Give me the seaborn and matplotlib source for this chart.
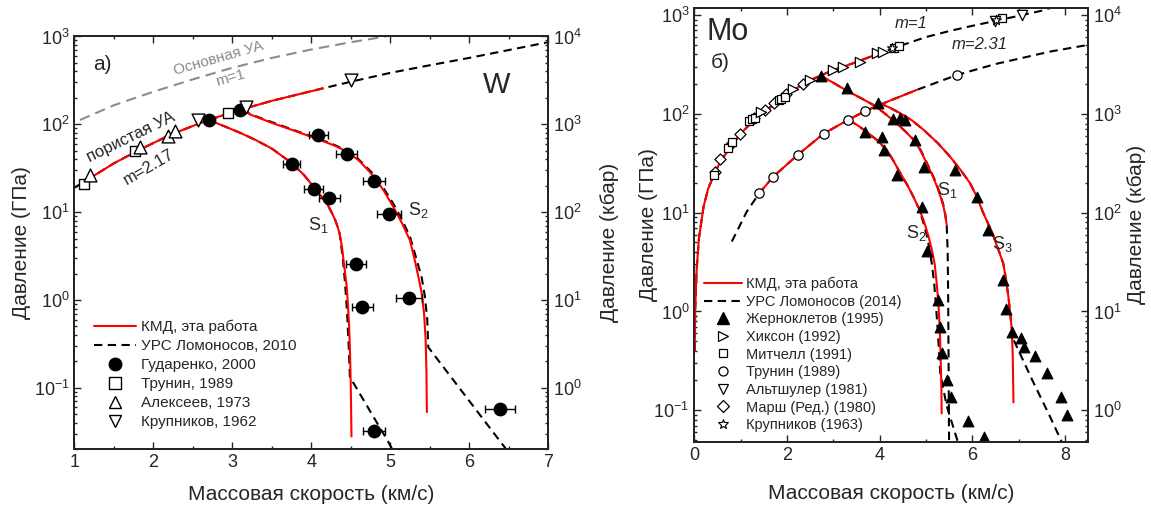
import numpy as np
import matplotlib
matplotlib.use('Agg')
import matplotlib.pyplot as plt
import seaborn as sns
from matplotlib.lines import Line2D
from matplotlib.ticker import LogLocator, MultipleLocator, NullFormatter

# ---------------- data: W (left panel) ----------------
w_solid_u = [1.07, 1.5, 2.0, 2.5, 3.0, 3.5, 4.0, 4.5, 4.95]
w_solid_p = [112, 165, 235, 325, 440, 570, 710, 860, 1000]

w_por_u = [1.0, 1.15, 1.5, 1.8, 2.2, 2.6, 3.0, 3.5, 4.15, 4.5, 5.0, 5.5, 6.0, 6.5, 7.0]
w_por_p = [19, 23, 36, 50, 75, 104, 138, 185, 257, 305, 385, 470, 570, 700, 860]
w_por_kmd_u = [1.15, 1.5, 1.8, 2.2, 2.6, 3.0, 3.5, 4.15]
w_por_kmd_p = [23, 36, 50, 75, 104, 138, 185, 257]

w_s1_kmd_u = [2.70, 2.9, 3.1, 3.3, 3.5, 3.73, 3.9, 4.05, 4.2, 4.25, 4.3, 4.33, 4.36, 4.39, 4.41,
              4.43, 4.45, 4.465, 4.48, 4.49, 4.50, 4.505, 4.51]
w_s1_kmd_p = [112, 95, 80, 66, 53, 37.5, 27, 18.5, 12.5, 10.3, 8.3, 7.0, 5.7, 4.0, 2.8,
              2.0, 1.4, 0.9, 0.5, 0.28, 0.12, 0.06, 0.028]
w_s1_eos_u = [2.70, 2.9, 3.1, 3.3, 3.5, 3.73, 3.9, 4.05, 4.2, 4.25, 4.3, 4.33, 4.36, 4.40, 4.43,
              4.455, 4.475, 4.49, 4.976, 5.04]
w_s1_eos_p = [112, 95, 80, 66, 53, 37.5, 27, 18.5, 12.5, 10.3, 8.3, 7.0, 5.7, 3.0, 1.5,
              0.7, 0.3, 0.133, 0.0243, 0.019]

w_s2_kmd_u = [3.15, 3.22, 3.5, 3.86, 4.1, 4.3, 4.45, 4.6, 4.7, 4.8, 4.92, 5.04, 5.15, 5.25,
              5.31, 5.36, 5.40, 5.43, 5.45, 5.46, 5.465]
w_s2_kmd_p = [152, 130, 104, 80, 67, 57, 49, 39, 31.5, 25, 17.5, 11.5, 7.5, 4.8,
              2.9, 1.8, 1.2, 0.7, 0.35, 0.15, 0.053]
w_s2_eos_u = [3.15, 3.22, 3.5, 3.86, 4.1, 4.3, 4.45, 4.6, 4.7, 4.8, 4.92, 5.04, 5.15, 5.25,
              5.33, 5.40, 5.44, 5.47, 5.483, 6.35, 6.50]
w_s2_eos_p = [152, 131, 106, 81, 68, 58, 50, 40, 32.5, 26.5, 18.5, 12.5, 8.2, 5.3,
              3.0, 1.8, 1.1, 0.6, 0.29, 0.0277, 0.0185]

w_gud_u = [2.70, 3.10, 4.09, 4.45, 4.80, 4.985, 3.75, 4.03, 4.23, 4.567, 4.647, 5.24, 6.39, 4.795]
w_gud_p = [112, 146, 75.6, 45.9, 22.8, 9.5, 35.3, 18.3, 14.4, 2.57, 0.824, 1.06, 0.057, 0.0324]
w_gud_err = [0, 0, 0.12, 0.13, 0.14, 0.15, 0.11, 0.12, 0.13, 0.13, 0.13, 0.16, 0.19, 0.14]

w_trunin_u = [1.12, 1.767, 2.95]
w_trunin_p = [20.9, 50, 133]
w_alek_u = [1.197, 1.83, 2.19, 2.27]
w_alek_p = [26.5, 55.6, 73.6, 84.6]
w_krup_u = [2.57, 3.17, 4.51]
w_krup_p = [112, 156, 316]

legend_w = ["КМД, эта работа", "УРС Ломоносов, 2010", "Гударенко, 2000",
            "Трунин, 1989", "Алексеев, 1973", "Крупников, 1962"]

# ---------------- data: Mo (right panel) ----------------
mo_m1_kmd_u = [0.008, 0.02, 0.05, 0.1, 0.2, 0.3, 0.45, 0.6, 0.8, 1.0, 1.3, 1.6, 2.0, 2.5, 3.0, 3.5, 4.1]
mo_m1_kmd_p = [0.4, 1.05, 2.6, 5.5, 11.5, 17.5, 26, 35, 47, 63, 88, 113, 160, 220, 278, 335, 430]
mo_m1_eos_u = [0.008, 0.02, 0.05, 0.1, 0.2, 0.3, 0.45, 0.6, 0.8, 1.0, 1.3, 1.6, 2.0, 2.5, 3.0, 3.5,
               4.1, 4.5, 5.0, 5.5, 6.0, 6.5, 7.0, 7.5, 7.7]
mo_m1_eos_p = [0.4, 1.05, 2.6, 5.5, 11.5, 17.5, 26, 35, 47, 63, 88, 113, 160, 220, 278, 335,
               430, 500, 600, 690, 780, 875, 985, 1110, 1190]

mo_por_eos_u = [0.81, 1.13, 1.40, 1.706, 2.23, 2.79, 3.32, 3.69, 3.97, 4.8, 5.67, 6.5, 7.68, 8.5]
mo_por_eos_p = [5.1, 10.2, 15.7, 23.2, 38.4, 63, 87, 107, 122, 175, 248, 320, 428, 500]
mo_por_kmd_u = [1.35, 1.706, 2.23, 2.79, 3.32, 3.69, 3.97, 4.8]
mo_por_kmd_p = [14.7, 23.2, 38.4, 63, 87, 107, 122, 175]

mo_s1_kmd_u = [2.73, 3.0, 3.29, 3.58, 3.87, 4.08, 4.30, 4.55, 4.77, 4.90, 5.02, 5.13, 5.24,
               5.32, 5.38, 5.42, 5.45]
mo_s1_kmd_p = [243, 207, 172, 146, 123, 104, 85.5, 67, 52.4, 41, 31.6, 24.5, 18.4,
               14.3, 11.5, 9.3, 7.5]
mo_s1_eos_u = [2.73, 3.0, 3.29, 3.58, 3.87, 4.08, 4.30, 4.55, 4.77, 4.90, 5.02, 5.13, 5.24,
               5.32, 5.38, 5.42, 5.45, 5.47, 5.48, 5.49, 5.50]
mo_s1_eos_p = [243, 207, 172, 146, 123, 104, 85.5, 67, 53, 42, 32, 25, 19,
               14.8, 11.8, 9.5, 7.3, 4.0, 1.5, 0.3, 0.047]

mo_s2_kmd_u = [3.33, 3.52, 3.72, 3.95, 4.16, 4.30, 4.44, 4.6, 4.73, 4.85, 4.95, 5.05, 5.13,
               5.19, 5.23, 5.27, 5.30, 5.32, 5.335, 5.34]
mo_s2_kmd_p = [87, 77, 66, 54, 43, 33.5, 25.5, 19, 14.5, 11, 8.4, 5.9, 4.2,
               3.0, 2.0, 1.2, 0.65, 0.32, 0.16, 0.093]
mo_s2_eos_u = [3.33, 3.52, 3.72, 3.95, 4.16, 4.30, 4.44, 4.6, 4.73, 4.85, 4.93, 5.02, 5.08,
               5.13, 5.18, 5.22, 5.26, 5.29, 5.31, 5.45, 5.70]
mo_s2_eos_p = [87, 77, 66, 54, 43, 33.5, 25.5, 19, 14.5, 11, 8.4, 5.9, 4.2,
               3.0, 1.9, 1.1, 0.6, 0.35, 0.237, 0.11, 0.046]

mo_s3_kmd_u = [3.97, 4.2, 4.44, 4.7, 4.95, 5.25, 5.52, 5.75, 5.95, 6.1, 6.24, 6.34, 6.42, 6.52,
               6.60, 6.67, 6.73, 6.78, 6.82, 6.855, 6.875, 6.89]
mo_s3_kmd_p = [130, 117, 102, 86, 69, 51, 37, 27, 20, 14.5, 9.9, 7.8, 6.5, 4.8,
               3.8, 3.06, 2.1, 1.42, 0.95, 0.65, 0.35, 0.12]
mo_s3_eos_u = [3.97, 4.2, 4.44, 4.7, 4.95, 5.25, 5.52, 5.75, 5.95, 6.1, 6.24, 6.34, 6.42, 6.52,
               6.60, 6.67, 6.73, 6.78, 6.82, 6.86, 6.89, 7.3, 7.68, 7.93]
mo_s3_eos_p = [130, 117, 102, 86, 69, 51, 37, 27, 20, 14.5, 9.9, 7.8, 6.5, 4.8,
               3.8, 3.06, 2.1, 1.42, 0.95, 0.65, 0.52, 0.2, 0.086, 0.048]

mo_zhern_u = [2.73, 3.29, 3.97, 4.30, 4.43, 4.55, 4.77, 4.95, 5.63, 6.10, 6.34, 3.69, 4.05, 4.10,
              4.37, 4.91, 5.02, 5.26, 5.31, 5.34, 5.45, 5.54, 5.90, 6.26, 6.66, 6.73, 6.855,
              7.05, 7.11, 7.36, 7.61, 7.92, 8.04]
mo_zhern_p = [243, 182, 130, 89, 92, 86, 54.6, 29.2, 27.1, 14.5, 6.7, 66.2, 58.9, 43.2,
              24.1, 11.5, 4.12, 1.30, 0.69, 0.38, 0.20, 0.137, 0.077, 0.054, 2.06, 1.07, 0.62,
              0.54, 0.44, 0.35, 0.24, 0.137, 0.089]
mo_hix_u = [1.45, 2.14, 2.49, 3.00, 3.22, 3.58, 3.94, 4.07]
mo_hix_p = [104, 180, 221, 279, 302, 339, 412, 428]
mo_mitch_u = [0.42, 0.72, 0.82, 1.18, 1.24, 1.30, 1.82, 1.88, 1.95, 4.32, 4.42, 6.64]
mo_mitch_p = [24, 45, 52, 85, 88, 92, 138, 143, 150, 470, 490, 946]
mo_trunin_u = [1.40, 1.706, 2.23, 2.79, 3.32, 3.69, 5.67]
mo_trunin_p = [15.7, 23.2, 38.4, 63.2, 87, 107, 248]
mo_alt_u = [6.50, 7.07]
mo_alt_p = [880, 1006]
mo_marsh_u = [0.45, 0.56, 0.78, 0.99, 1.28, 1.53, 1.72, 1.98, 2.35]
mo_marsh_p = [26, 35, 48, 63, 90, 110, 128, 160, 200]
mo_krup_u = [4.27, 6.52]
mo_krup_p = [468, 890]

legend_mo = ["КМД, эта работа", "УРС Ломоносов (2014)", "Жерноклетов (1995)", "Хиксон (1992)",
             "Митчелл (1991)", "Трунин (1989)", "Альтшулер (1981)", "Марш (Ред.) (1980)",
             "Крупников (1963)"]

# ---------------- style ----------------
sns.set_theme(style='ticks')
plt.rcParams['font.family'] = ['Liberation Sans', 'DejaVu Sans']
plt.rcParams['mathtext.fontset'] = 'custom'
plt.rcParams['mathtext.rm'] = 'Liberation Sans'
plt.rcParams['mathtext.it'] = 'Liberation Sans:italic'
plt.rcParams['mathtext.default'] = 'regular'

RED = '#ff0000'
DASH = (0, (4, 2.6))
GRAYDASH = (0, (5, 3))

fig = plt.figure(figsize=(11.51, 5.08), dpi=100)
axL = fig.add_axes([0.0647, 0.1156, 0.4114, 0.8126])
axR = fig.add_axes([0.6032, 0.1305, 0.3421, 0.8543])


def line(ax, x, y, color, ls='-', lw=1.5, z=2):
    sns.lineplot(x=x, y=y, ax=ax, color=color, linestyle=ls, linewidth=lw,
                 sort=False, estimator=None, zorder=z, legend=False)


def pts(ax, x, y, marker, size, filled=False, lw=1.0, z=5):
    sns.scatterplot(x=x, y=y, ax=ax, marker=marker, s=size,
                    color='black' if filled else 'white', edgecolor='black',
                    linewidth=lw, zorder=z, legend=False)


def style_axes(ax, xlim, ylim, xmaj, xmin, lpad_left, lpad_right, xpad):
    ax.set_yscale('log')
    ax.set_xlim(*xlim)
    ax.set_ylim(*ylim)
    ax.xaxis.set_major_locator(MultipleLocator(xmaj))
    ax.xaxis.set_minor_locator(MultipleLocator(xmin))
    ax.yaxis.set_major_locator(LogLocator(base=10))
    ax.yaxis.set_minor_locator(LogLocator(base=10, subs=np.arange(2, 10)))
    ax.yaxis.set_minor_formatter(NullFormatter())
    ax.tick_params(which='both', direction='in', top=True, right=False, labelsize=13, width=1.0)
    ax.tick_params(which='major', length=5)
    ax.tick_params(which='minor', length=2.5)
    for s in ax.spines.values():
        s.set_linewidth(1.3)
        s.set_color('black')
    ax.set_xlabel('Массовая скорость (км/с)', fontsize=15, labelpad=xpad)
    ax.set_ylabel('Давление (ГПа)', fontsize=15, labelpad=lpad_left)
    tw = ax.twinx()
    tw.set_yscale('log')
    tw.set_ylim(ylim[0] * 10, ylim[1] * 10)
    tw.yaxis.set_major_locator(LogLocator(base=10))
    tw.yaxis.set_minor_locator(LogLocator(base=10, subs=np.arange(2, 10)))
    tw.yaxis.set_minor_formatter(NullFormatter())
    tw.tick_params(which='both', direction='in', right=True, labelsize=13, width=1.0)
    tw.tick_params(which='major', length=5)
    tw.tick_params(which='minor', length=2.5)
    tw.set_ylabel('Давление (кбар)', fontsize=15, labelpad=lpad_right)
    for s in tw.spines.values():
        s.set_linewidth(1.3)
    return tw


# ---------------- left panel: W ----------------
style_axes(axL, (1, 7), (0.02, 1000), 1, 0.5, 2, 13, 10)
line(axL, w_solid_u, w_solid_p, '#8c8c8c', GRAYDASH, 1.5, 1)
line(axL, w_por_u, w_por_p, 'black', DASH, 1.5, 2)
line(axL, w_s1_eos_u, w_s1_eos_p, 'black', DASH, 1.5, 2)
line(axL, w_s2_eos_u, w_s2_eos_p, 'black', DASH, 1.5, 2)
line(axL, w_por_kmd_u, w_por_kmd_p, RED, '-', 1.5, 3)
line(axL, w_s1_kmd_u, w_s1_kmd_p, RED, '-', 1.5, 3)
line(axL, w_s2_kmd_u, w_s2_kmd_p, RED, '-', 1.5, 3)

gu = np.array(w_gud_u); gp = np.array(w_gud_p); ge = np.array(w_gud_err)
m = ge > 0
axL.errorbar(gu[m], gp[m], xerr=ge[m], fmt='none', ecolor='black', elinewidth=1.0,
             capsize=3, capthick=1.0, zorder=4)
pts(axL, w_gud_u, w_gud_p, 'o', 80, filled=True)
pts(axL, w_trunin_u, w_trunin_p, 's', 60)
pts(axL, w_alek_u, w_alek_p, '^', 85)
pts(axL, w_krup_u, w_krup_p, 'v', 85)

axL.text(1.35, 480, 'а)', fontsize=15, ha='center', va='center')
axL.text(6.35, 280, 'W', fontsize=21, ha='center', va='center')
axL.text(2.82, 560, 'Основная УА', fontsize=11, color='#8c8c8c', rotation=16,
         ha='center', va='center')
axL.text(2.98, 335, 'm=1', fontsize=11, color='#8c8c8c', rotation=16, ha='center', va='center')
axL.text(1.72, 72, 'пористая УА', fontsize=12, rotation=26, ha='center', va='center')
axL.text(1.94, 33, 'm=2.17', fontsize=12, rotation=30, ha='center', va='center')
axL.text(4.09, 7.1, r'S$_{1}$', fontsize=13, ha='center', va='center')
axL.text(5.36, 10.6, r'S$_{2}$', fontsize=13, ha='center', va='center')

hL = [Line2D([], [], color=RED, lw=1.5),
      Line2D([], [], color='black', lw=1.5, ls=DASH),
      Line2D([], [], ls='none', marker='o', ms=9, mfc='black', mec='black'),
      Line2D([], [], ls='none', marker='s', ms=8, mfc='white', mec='black'),
      Line2D([], [], ls='none', marker='^', ms=9, mfc='white', mec='black'),
      Line2D([], [], ls='none', marker='v', ms=9, mfc='white', mec='black')]
axL.legend(hL, legend_w, loc='lower left', bbox_to_anchor=(0.042, 0.048), frameon=False,
           fontsize=11, handlelength=2.7, handletextpad=0.35, labelspacing=0.33,
           borderpad=0, borderaxespad=0)

# ---------------- right panel: Mo ----------------
style_axes(axR, (0, 8.5), (0.048, 1190), 2, 1, -3, 4, 15)
line(axR, mo_m1_eos_u, mo_m1_eos_p, 'black', DASH, 1.5, 2)
line(axR, mo_por_eos_u, mo_por_eos_p, 'black', DASH, 1.5, 2)
line(axR, mo_s1_eos_u, mo_s1_eos_p, 'black', DASH, 1.5, 2)
line(axR, mo_s2_eos_u, mo_s2_eos_p, 'black', DASH, 1.5, 2)
line(axR, mo_s3_eos_u, mo_s3_eos_p, 'black', DASH, 1.5, 2)
line(axR, mo_m1_kmd_u, mo_m1_kmd_p, RED, '-', 1.5, 3)
line(axR, mo_por_kmd_u, mo_por_kmd_p, RED, '-', 1.5, 3)
line(axR, mo_s1_kmd_u, mo_s1_kmd_p, RED, '-', 1.5, 3)
line(axR, mo_s2_kmd_u, mo_s2_kmd_p, RED, '-', 1.5, 3)
line(axR, mo_s3_kmd_u, mo_s3_kmd_p, RED, '-', 1.5, 3)

pts(axR, mo_marsh_u, mo_marsh_p, 'D', 32, lw=0.9)
pts(axR, mo_mitch_u, mo_mitch_p, 's', 36, lw=0.9)
pts(axR, mo_hix_u, mo_hix_p, '>', 55, lw=0.9)
pts(axR, mo_trunin_u, mo_trunin_p, 'o', 45, lw=0.9)
pts(axR, mo_alt_u, mo_alt_p, 'v', 55, lw=0.9)
pts(axR, mo_krup_u, mo_krup_p, '*', 55, lw=0.8)
pts(axR, mo_zhern_u, mo_zhern_p, '^', 60, filled=True, lw=0.8)

axR.text(0.72, 680, 'Mo', fontsize=22, ha='center', va='center')
axR.text(0.56, 330, 'б)', fontsize=15, ha='center', va='center')
axR.text(4.69, 830, 'm=1', fontsize=12, style='italic', ha='center', va='center')
axR.text(6.17, 507, 'm=2.31', fontsize=12, style='italic', ha='center', va='center')
axR.text(5.47, 17, r'S$_{1}$', fontsize=13, ha='center', va='center')
axR.text(4.80, 6.2, r'S$_{2}$', fontsize=13, ha='center', va='center')
axR.text(6.66, 4.8, r'$S_{3}$', fontsize=13, ha='center', va='center')

hR = [Line2D([], [], color=RED, lw=1.5),
      Line2D([], [], color='black', lw=1.5, ls=DASH),
      Line2D([], [], ls='none', marker='^', ms=8, mfc='black', mec='black'),
      Line2D([], [], ls='none', marker='>', ms=7, mfc='white', mec='black', mew=0.9),
      Line2D([], [], ls='none', marker='s', ms=6, mfc='white', mec='black', mew=0.9),
      Line2D([], [], ls='none', marker='o', ms=6.5, mfc='white', mec='black', mew=0.9),
      Line2D([], [], ls='none', marker='v', ms=7, mfc='white', mec='black', mew=0.9),
      Line2D([], [], ls='none', marker='D', ms=6, mfc='white', mec='black', mew=0.9),
      Line2D([], [], ls='none', marker='*', ms=7, mfc='white', mec='black', mew=0.8)]
axR.legend(hR, legend_mo, loc='lower left', bbox_to_anchor=(0.025, 0.022), frameon=False,
           fontsize=10.5, handlelength=2.6, handletextpad=0.3, labelspacing=0.25,
           borderpad=0, borderaxespad=0)

fig.savefig('out.png', dpi=100)
